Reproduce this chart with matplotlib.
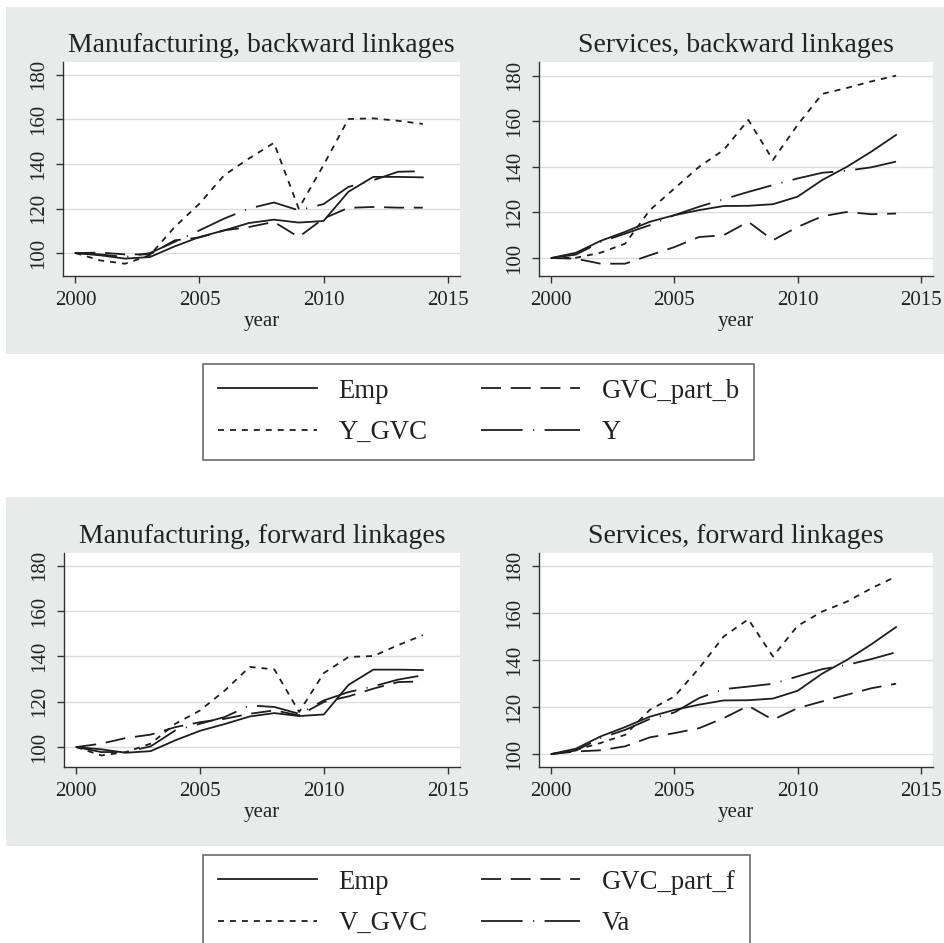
import matplotlib
matplotlib.use('Agg')
import matplotlib.pyplot as plt
from matplotlib.patches import Rectangle

plt.rcParams['font.family'] = ['Liberation Serif', 'DejaVu Serif']
plt.rcParams['lines.scale_dashes'] = False

years = list(range(2000, 2015))

# Manufacturing
emp_manuf = [100, 99, 97.5, 98.2, 103, 107.2, 110.2, 113.5, 115, 113.7, 114.4, 127.5, 134.2, 134.2, 134]
ygvc_manuf = [100, 96.7, 95.2, 99, 111.7, 122.2, 135, 142.5, 149.5, 120, 139.5, 160.2, 160.5, 159.4, 158]
gvcb_manuf = [100, 100.2, 99.4, 99.4, 105.7, 107, 110.2, 111.7, 114, 107.2, 115.5, 120.3, 120.7, 120.4, 120.4]
y_manuf = [100, 99.4, 98.2, 100, 105, 110.2, 115.5, 120, 122.7, 119.2, 122, 129.7, 132.7, 136.5, 136.8]
vgvc_manuf = [100, 96.3, 97.8, 101.5, 110.3, 116.2, 125, 135.4, 134.3, 115.5, 132.7, 139.8, 140.2, 145, 149.4]
gvcf_manuf = [100, 101.5, 104, 105.5, 108.8, 111, 112.5, 114.7, 116.2, 114, 119.9, 122.4, 125.8, 128.7, 129]
va_manuf = [100, 97.8, 97.8, 100.3, 107.4, 110.3, 113.3, 118.4, 117.7, 114.7, 120.6, 124.3, 126.8, 129.8, 131.7]

# Services
emp_serv = [100, 102.3, 107.5, 111.5, 115.9, 118.8, 121, 122.8, 122.9, 123.6, 126.9, 134.2, 140, 146.7, 154]
ygvc_serv = [100, 100.1, 102.3, 106.3, 121, 130.5, 140, 147.4, 160.6, 143, 158.4, 172, 174.6, 177.5, 180]
gvcb_serv = [100, 99.7, 97.5, 97.5, 101.2, 104.8, 109.2, 110, 115.9, 107.8, 113.6, 118.3, 120.2, 119.2, 119.5]
y_serv = [100, 101.5, 107, 110.7, 114.4, 118.8, 122.5, 125.8, 129, 132, 134.9, 137.4, 138.3, 139.8, 142.3]
vgvc_serv = [100, 101.8, 104.7, 108.2, 118.8, 124.5, 136.5, 150, 157.3, 141.5, 154.5, 160.6, 164.8, 170.5, 175.5]
gvcf_serv = [100, 101.1, 101.6, 103.3, 107.1, 108.9, 111, 115.3, 120.5, 114.6, 119.5, 122.4, 125.2, 128, 129.9]
va_serv = [100, 101.5, 106.8, 110.3, 114.9, 117.7, 123.8, 127.6, 128.7, 129.9, 133, 136.1, 137.9, 140.4, 143.3]

titles = ["Manufacturing, backward linkages", "Services, backward linkages",
          "Manufacturing, forward linkages", "Services, forward linkages"]
legend_b = ["Emp", "Y_GVC", "GVC_part_b", "Y"]
legend_f = ["Emp", "V_GVC", "GVC_part_f", "Va"]
xticks = [2000, 2005, 2010, 2015]
yticks = [100, 120, 140, 160, 180]

W, H = 945, 943
fig = plt.figure(figsize=(W / 100, H / 100), dpi=100)
fig.patch.set_facecolor('white')

GREY = '#e9ebeb'
LC = '#1e1e1e'
for (t, b) in [(7, 354), (497, 846)]:
    fig.patches.append(Rectangle((6 / W, 1 - b / H), (W - 6) / W, (b - t) / H,
                                 transform=fig.transFigure, facecolor=GREY,
                                 edgecolor='none', zorder=-10))

def rect(l, t, r, b):
    return [l / W, 1 - b / H, (r - l) / W, (b - t) / H]

styles = ['-', (0, (4.3, 4.3)), (0, (14.4, 7.0)), (0, (30, 7.5, 0.8, 7.5))]

panels = [
    (rect(63, 62, 460, 276), (89.7, 185.8), [emp_manuf, ygvc_manuf, gvcb_manuf, y_manuf], legend_b),
    (rect(539, 62, 933, 276), (92.1, 186.0), [emp_serv, ygvc_serv, gvcb_serv, y_serv], legend_b),
    (rect(64, 553, 460, 767), (91.2, 185.7), [emp_manuf, vgvc_manuf, gvcf_manuf, va_manuf], legend_f),
    (rect(539, 553, 933, 767), (94.5, 185.5), [emp_serv, vgvc_serv, gvcf_serv, va_serv], legend_f),
]

handles_sets = []
for i, (r, ylim, series, labels) in enumerate(panels):
    ax = fig.add_axes(r)
    ax.set_zorder(1)
    ax.set_facecolor('white')
    hs = []
    for s, ls, lab in zip(series, styles, labels):
        h, = ax.plot(years, s, linestyle=ls, color=LC, lw=1.3, dash_capstyle='butt', label=lab)
        hs.append(h)
    handles_sets.append(hs)
    ax.set_xlim(1999.5, 2015.5)
    ax.set_ylim(*ylim)
    ax.set_xticks(xticks)
    ax.set_yticks(yticks)
    ax.yaxis.grid(True, color='#dcdcdc', lw=1.0)
    ax.set_axisbelow(True)
    for sp in ['top', 'right']:
        ax.spines[sp].set_visible(False)
    for sp in ['left', 'bottom']:
        ax.spines[sp].set_color('#333333')
        ax.spines[sp].set_linewidth(1.0)
    ax.tick_params(direction='out', length=5, width=1.0, color='#333333',
                   labelsize=15, pad=6, labelcolor='#222222')
    plt.setp(ax.get_yticklabels(), rotation=90, va='center')
    ax.set_xlabel('year', fontsize=15, labelpad=1, color='#222222')
    ax.set_title(titles[i], fontsize=20, pad=7, color='#222222')

for hs, top in [(handles_sets[0], 364), (handles_sets[2], 855)]:
    leg = fig.legend(hs, [h.get_label() for h in hs], ncol=2,
                     loc='upper left', bbox_to_anchor=(203 / W, 1 - top / H),
                     fontsize=19.3, frameon=True, fancybox=False,
                     handlelength=3.7, handletextpad=0.8, columnspacing=2.0,
                     borderpad=0.55, labelspacing=0.62, borderaxespad=0)
    fr = leg.get_frame()
    fr.set_edgecolor('#444444')
    fr.set_linewidth(1.2)
    fr.set_facecolor('white')
    for t in leg.get_texts():
        t.set_color('#222222')

fig.savefig('out.png', dpi=100, facecolor='white')
